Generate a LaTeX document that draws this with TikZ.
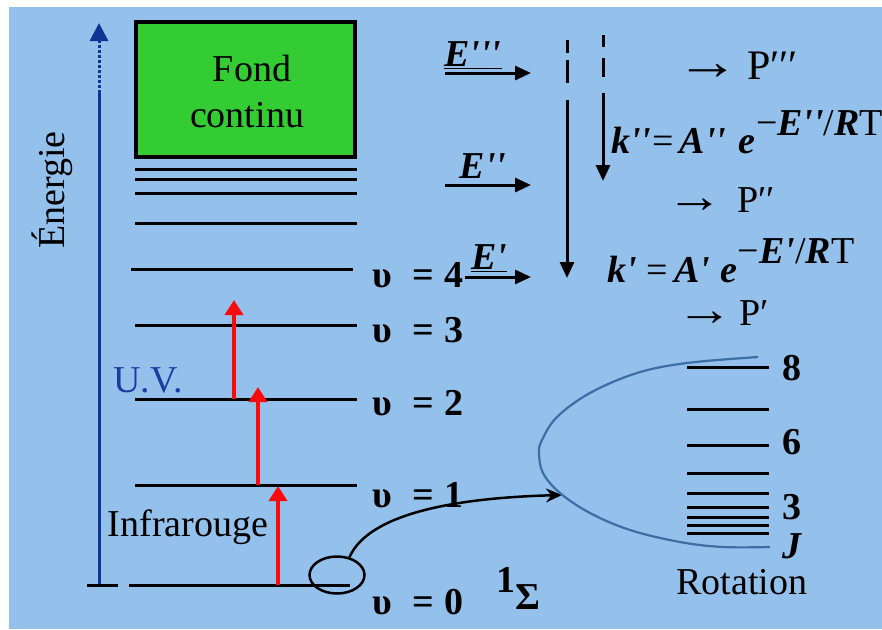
\documentclass[tikz,border=0pt]{standalone}
\usepackage{fontspec}
\setmainfont{Liberation Serif}
\usetikzlibrary{arrows.meta,shapes.geometric}
\definecolor{bg}{RGB}{148,193,236}
\definecolor{boxgreen}{RGB}{51,204,51}
\definecolor{axisblue}{RGB}{16,52,150}
\definecolor{uvblue}{RGB}{30,60,160}
\definecolor{envblue}{RGB}{58,110,165}
\definecolor{redarrow}{RGB}{250,10,10}
\newcommand{\qs}{\textquotesingle}
\newcommand{\bi}[1]{{\bfseries\itshape #1}}
\newcommand{\bigarrow}{\scalebox{1.5}[1.25]{→}}
\tikzset{
  txt/.style={inner sep=0pt, font=\fontsize{38}{44}\selectfont},
  btxt/.style={inner sep=0pt, font=\fontsize{38}{44}\selectfont\bfseries},
  lvl/.style={line width=3pt, black},
  rotl/.style={line width=3pt, black},
  redarr/.style={line width=4pt, redarrow, -{Triangle[width=18pt,length=15pt]}},
  blkarr/.style={line width=3pt, black, -{Triangle[width=14pt,length=16pt]}},
  dashseg/.style={line width=3pt, black},
}
\begin{document}
\begin{tikzpicture}[x=1pt,y=-1pt]
\useasboundingbox (0,0) rectangle (882,629);
\fill[white] (0,0) rectangle (882,629);
\fill[bg] (9,7) rectangle (882,629);

% energy axis
\coordinate (axb) at (99,585);
\coordinate (axm) at (99,93);
\coordinate (axt) at (99,23);
\draw[axisblue, line width=3pt] (axb) -- (axm);
\draw[axisblue, line width=3pt, dotted, -{Triangle[width=18pt,length=18pt]}] (axm) -- (axt);
\draw[line width=3pt] (87,585) -- (118,585);
\node[txt, rotate=90] (energie) at (52,190) {Énergie};

% continuum box
\draw[line width=4pt, fill=boxgreen] (136,22) rectangle (355,157);
\node[txt, align=center] (fond) at (247,92) {\hspace*{10pt}Fond\\[2pt]continu};

% vibrational levels
\draw[lvl] (135,169) -- (357,169);
\draw[lvl] (135,179) -- (357,179);
\draw[lvl] (135,193) -- (357,193);
\draw[lvl] (135,223) -- (357,223);
\draw[lvl] (131,269) -- (353,269);
\draw[lvl] (135,325) -- (357,325);
\draw[lvl] (135,399) -- (357,399);
\draw[lvl] (135,485) -- (357,485);
\draw[lvl] (129,585) -- (350,585);

\node[btxt, anchor=west] (v4) at (372,275) {υ\hspace{21pt}= 4};
\node[btxt, anchor=west] (v3) at (372,330) {υ\hspace{21pt}= 3};
\node[btxt, anchor=west] (v2) at (372,403) {υ\hspace{21pt}= 2};
\node[btxt, anchor=west] (v1) at (372,495) {υ\hspace{21pt}= 1};
\node[btxt, anchor=west] (v0) at (372,602) {υ\hspace{21pt}= 0};

% red transitions
\draw[redarr] (278,585) -- (278,486);
\draw[redarr] (258,485) -- (258,387);
\draw[redarr] (234,399) -- (234,300);

\node[txt, text=uvblue] (uv) at (148,380) {U.V.};
\node[txt] (ir) at (188,527) {Infrarouge};

% ellipse and link to rotation
\node[draw, ellipse, line width=2.5pt, minimum width=55pt, minimum height=37pt, inner sep=0pt] (ell) at (337,575) {};
\coordinate (rottip) at (562,495);
\draw[line width=2.5pt, -{Stealth[width=14pt,length=16pt]}] (ell.55) .. controls (368,515) and (450,498) .. (rottip);

\node[btxt] (one) at (506,580) {1};
\node[btxt] (sig) at (528,597) {Σ};

% rotation envelope
\draw[envblue, line width=2.2pt] plot[smooth, tension=0.6] coordinates {(758,357) (687,363) (637,373) (590,393) (557,417) (542,440) (539,453) (543,473) (560,493) (590,513) (630,530) (680,542) (723,547) (770,547)};

% rotational levels
\foreach \yy in {367,409,445,473,493,507,517,525,533}
  \draw[rotl] (687,\yy) -- (769,\yy);
\node[btxt] (j8) at (792,368) {8};
\node[btxt] (j6) at (792,442) {6};
\node[btxt] (j3) at (792,507) {3};
\node[btxt] (jj) at (792,546) {\itshape J};
\node[txt] (rot) at (742,582) {Rotation};

% energy inputs
\coordinate (e3a) at (445,73); \coordinate (e3b) at (531,73);
\coordinate (e2a) at (445,185); \coordinate (e2b) at (531,185);
\coordinate (e1a) at (465,277); \coordinate (e1b) at (531,277);
\draw[blkarr] (e3a) -- (e3b);
\draw[blkarr] (e2a) -- (e2b);
\draw[blkarr] (e1a) -- (e1b);
\node[txt] (E3) at (473,55) {\underline{\bi{E\qs\qs\qs}}};
\node[txt] (E2) at (483,166) {\bi{E\qs\qs}};
\node[txt] (E1) at (489,258) {\underline{\bi{E\qs}}};

% decay arrows
\draw[dashseg] (567,40) -- (567,53);
\draw[dashseg] (567,60) -- (567,83);
\draw[dashseg] (603,35) -- (603,47);
\draw[dashseg] (603,58) -- (603,77);
\coordinate (d1a) at (567,100); \coordinate (d1b) at (567,278);
\coordinate (d2a) at (603,93); \coordinate (d2b) at (603,181);
\draw[blkarr] (d1a) -- (d1b);
\draw[blkarr] (d2a) -- (d2b);

% rate laws
\node[txt, anchor=base west] (k2) at (611,153) {\bi{k\qs\qs}\hspace{1pt}=\hspace{6pt}\bi{A\qs\qs}\hspace{12pt}\bi{e}\hspace{1pt}\raisebox{18pt}{−\bi{E\qs\qs}/\bi{R}T}};
\node[txt, anchor=base west] (k1) at (607,282) {\bi{k\qs}\hspace{10pt}=\hspace{6pt}\bi{A\qs}\hspace{10pt}\bi{e}\hspace{1pt}\raisebox{19pt}{−\bi{E\qs}/\bi{R}T}};

% products
\node[inner sep=0pt, font=\fontsize{42}{48}\selectfont, anchor=west] (p3) at (676,66) {\bigarrow\hspace{8pt}P′′′};
\node[txt, anchor=west] (p2) at (666,200) {\bigarrow\hspace{14pt}P′′};
\node[txt, anchor=west] (p1) at (676,313) {\bigarrow\hspace{6pt}P′};
\end{tikzpicture}
\end{document}
